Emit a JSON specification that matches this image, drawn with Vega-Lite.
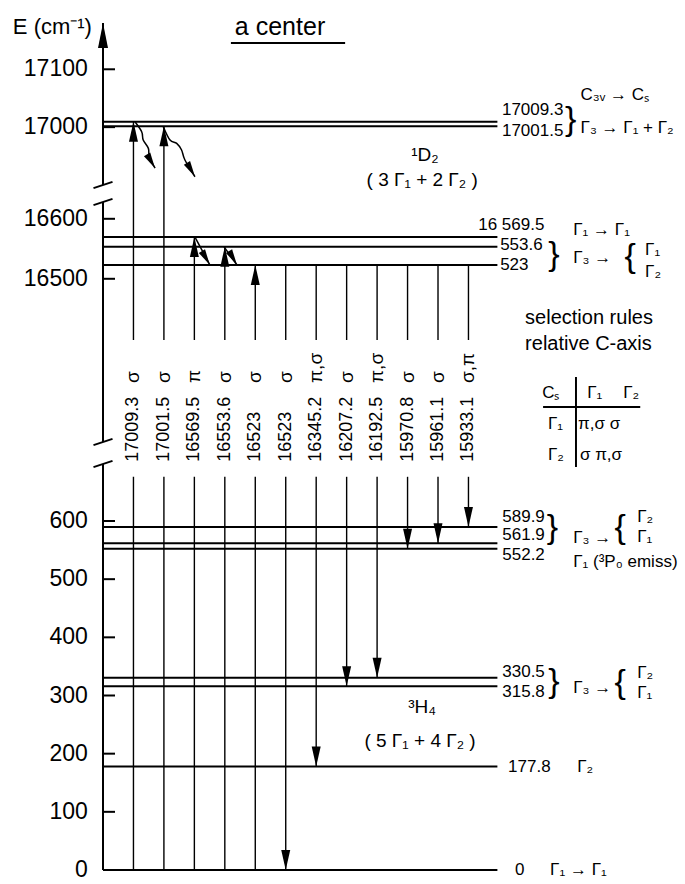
{
  "$schema": "https://vega.github.io/schema/vega-lite/v6.json",
  "width": 582,
  "height": 884,
  "autosize": {"type": "none"},
  "padding": {"left": 103, "top": 0, "right": 0, "bottom": 0},
  "background": "white",
  "config": {
    "view": {"stroke": null},
    "font": "Liberation Sans, Arial, sans-serif",
    "text": {"color": "black", "font": "Liberation Sans, Arial, sans-serif"}
  },
  "datasets": {
    "levels": [
      {"E": 17009.3}, {"E": 17001.5}, {"E": 16569.5}, {"E": 16553.6}, {"E": 16523},
      {"E": 589.9}, {"E": 561.9}, {"E": 552.2}, {"E": 330.5}, {"E": 315.8}, {"E": 177.8}, {"E": 0}
    ],
    "yticks": [
      {"E": 0}, {"E": 100}, {"E": 200}, {"E": 300}, {"E": 400}, {"E": 500}, {"E": 600},
      {"E": 16500}, {"E": 16600}, {"E": 17000}, {"E": 17100}
    ],
    "axisSeg": [
      {"lo": 0, "hi": 698}, {"lo": 16228, "hi": 16628}, {"lo": 16900, "hi": 17180}
    ],
    "axisTop": [{"E": 17180}],
    "breaks": [{"E": 16900}, {"E": 16628}, {"E": 16228}, {"E": 698}],
    "trans": [
      {"col": 1, "up": 17009.3, "low": 0, "kind": "abs", "num": "17009.3", "pol": "σ"},
      {"col": 2, "up": 17001.5, "low": 0, "kind": "abs", "num": "17001.5", "pol": "σ"},
      {"col": 3, "up": 16569.5, "low": 0, "kind": "abs", "num": "16569.5", "pol": "π"},
      {"col": 4, "up": 16553.6, "low": 0, "kind": "abs", "num": "16553.6", "pol": "σ"},
      {"col": 5, "up": 16523, "low": 0, "kind": "abs", "num": "16523", "pol": "σ"},
      {"col": 6, "up": 16523, "low": 0, "kind": "em", "num": "16523", "pol": "σ"},
      {"col": 7, "up": 16523, "low": 177.8, "kind": "em", "num": "16345.2", "pol": "π,σ"},
      {"col": 8, "up": 16523, "low": 315.8, "kind": "em", "num": "16207.2", "pol": "σ"},
      {"col": 9, "up": 16523, "low": 330.5, "kind": "em", "num": "16192.5", "pol": "π,σ"},
      {"col": 10, "up": 16523, "low": 552.2, "kind": "em", "num": "15970.8", "pol": "σ"},
      {"col": 11, "up": 16523, "low": 561.9, "kind": "em", "num": "15961.1", "pol": "σ"},
      {"col": 12, "up": 16523, "low": 589.9, "kind": "em", "num": "15933.1", "pol": "σ,π"}
    ],
    "waves": [
      {"id": "w1", "o": 1, "col": 1.05, "E": 17009.3},
      {"id": "w1", "o": 2, "col": 1.27, "E": 16992},
      {"id": "w1", "o": 3, "col": 1.32, "E": 16977.8},
      {"id": "w1", "o": 4, "col": 1.49, "E": 16963.3},
      {"id": "w1", "o": 5, "col": 1.52, "E": 16949},
      {"id": "w1", "o": 6, "col": 1.71, "E": 16929},
      {"id": "w2", "o": 1, "col": 1.98, "E": 17000.8},
      {"id": "w2", "o": 2, "col": 2.2, "E": 16977.8},
      {"id": "w2", "o": 3, "col": 2.42, "E": 16972},
      {"id": "w2", "o": 4, "col": 2.58, "E": 16960.5},
      {"id": "w2", "o": 5, "col": 2.69, "E": 16943.2},
      {"id": "w2", "o": 6, "col": 3.02, "E": 16914.3},
      {"id": "w3", "o": 1, "col": 3.02, "E": 16569.5},
      {"id": "w3", "o": 2, "col": 3.51, "E": 16523},
      {"id": "w4", "o": 1, "col": 3.97, "E": 16553.6},
      {"id": "w4", "o": 2, "col": 4.4, "E": 16523}
    ],
    "notes": [
      {"kind": "lab", "t": "17009.3", "c": 13.1, "E": 17029.6},
      {"kind": "lab", "t": "17001.5", "c": 13.1, "E": 16993.3},
      {"kind": "lab", "t": "Γ₃ → Γ₁ + Γ₂", "c": 15.68, "E": 16998.5},
      {"kind": "lab", "t": "C₃ᵥ → Cₛ", "c": 15.68, "E": 17055.5},
      {"kind": "lab", "t": "16 569.5", "c": 12.32, "E": 16589.7},
      {"kind": "lab", "t": "553.6", "c": 13.04, "E": 16556.3},
      {"kind": "lab", "t": "523", "c": 13.04, "E": 16523},
      {"kind": "lab", "t": "Γ₁ → Γ₁", "c": 15.44, "E": 16581.3},
      {"kind": "lab", "t": "Γ₃ →", "c": 15.44, "E": 16534.7},
      {"kind": "lab", "t": "Γ₁", "c": 17.8, "E": 16548},
      {"kind": "lab", "t": "Γ₂", "c": 17.8, "E": 16511.3},
      {"kind": "sel", "t": "selection rules", "c": 13.86, "E": 16434.7},
      {"kind": "sel", "t": "relative C-axis", "c": 13.86, "E": 16391.3},
      {"kind": "lab", "t": "Cₛ", "c": 14.42, "E": 16309.7},
      {"kind": "lab", "t": "Γ₁", "c": 15.9, "E": 16309.7},
      {"kind": "lab", "t": "Γ₂", "c": 17.08, "E": 16309.7},
      {"kind": "lab", "t": "Γ₁", "c": 14.61, "E": 16258},
      {"kind": "lab", "t": "π,σ  σ", "c": 15.6, "E": 16258},
      {"kind": "lab", "t": "Γ₂", "c": 14.61, "E": 16206.3},
      {"kind": "lab", "t": "σ  π,σ", "c": 15.66, "E": 16206.3},
      {"kind": "lab", "t": "589.9", "c": 13.11, "E": 606.8},
      {"kind": "lab", "t": "561.9", "c": 13.11, "E": 575.9},
      {"kind": "lab", "t": "552.2", "c": 13.11, "E": 541.5},
      {"kind": "lab", "t": "Γ₃ →", "c": 15.44, "E": 570.7},
      {"kind": "lab", "t": "Γ₂", "c": 17.54, "E": 606.8},
      {"kind": "lab", "t": "Γ₁", "c": 17.54, "E": 572.5},
      {"kind": "lab", "t": "Γ₁ (³P₀ emiss)", "c": 15.44, "E": 529.5},
      {"kind": "lab", "t": "330.5", "c": 13.11, "E": 340.4},
      {"kind": "lab", "t": "315.8", "c": 13.11, "E": 306},
      {"kind": "lab", "t": "Γ₃ →", "c": 15.44, "E": 312.9},
      {"kind": "lab", "t": "Γ₂", "c": 17.54, "E": 338.7},
      {"kind": "lab", "t": "Γ₁", "c": 17.54, "E": 304.3},
      {"kind": "lab", "t": "177.8", "c": 13.3, "E": 177.8},
      {"kind": "lab", "t": "Γ₂", "c": 15.57, "E": 177.8},
      {"kind": "lab", "t": "0", "c": 13.53, "E": 0},
      {"kind": "lab", "t": "Γ₁ → Γ₁", "c": 14.68, "E": 0},
      {"kind": "mid", "t": "¹D₂", "c": 10.57, "E": 16951.8},
      {"kind": "mid", "t": "( 3 Γ₁ + 2 Γ₂ )", "c": 10.48, "E": 16908.6},
      {"kind": "mid", "t": "³H₄", "c": 10.48, "E": 280.2},
      {"kind": "mid", "t": "( 5 Γ₁ + 4 Γ₂ )", "c": 10.41, "E": 221.8},
      {"kind": "title", "t": "a   center", "c": 4.33, "E": 17173},
      {"kind": "ytitle", "t": "E (cm⁻¹)", "c": -2.96, "E": 17173},
      {"kind": "brace", "t": "}", "c": 15.36, "E": 17011.5},
      {"kind": "brace", "t": "}", "c": 14.81, "E": 16539.7},
      {"kind": "brace", "t": "{", "c": 17.31, "E": 16536.3},
      {"kind": "brace", "t": "}", "c": 14.76, "E": 588},
      {"kind": "brace", "t": "{", "c": 16.98, "E": 588},
      {"kind": "brace", "t": "}", "c": 14.81, "E": 323.2},
      {"kind": "brace", "t": "{", "c": 16.98, "E": 321.5}
    ],
    "lines": [
      {"c1": 4.2, "c2": 7.95, "e1": 17145.4, "e2": 17145.4},
      {"c1": 15.53, "c2": 15.53, "e1": 16336.3, "e2": 692.8},
      {"c1": 14.45, "c2": 17.64, "e1": 16286.3, "e2": 16286.3}
    ]
  },
  "layer": [
    {
      "data": {"name": "levels"},
      "mark": {"type": "rule", "strokeWidth": 2, "color": "black"},
      "encoding": {
        "y": {
          "field": "E", "type": "quantitative",
          "scale": {"domain": [0, 698, 16191.3, 16628, 16900, 17180], "range": [870, 464, 464, 202, 185, 23], "nice": false, "zero": false},
          "axis": null
        },
        "x": {"datum": 0, "type": "quantitative", "scale": {"domain": [0, 19.11], "range": [0, 582], "nice": false, "zero": false}, "axis": null},
        "x2": {"datum": 12.95}
      }
    },
    {
      "data": {"name": "yticks"},
      "mark": {"type": "rule", "strokeWidth": 2, "color": "black"},
      "encoding": {
        "y": {"field": "E", "type": "quantitative", "axis": null},
        "x": {"datum": 0, "type": "quantitative", "axis": null},
        "x2": {"datum": 0.394}
      }
    },
    {
      "data": {"name": "yticks"},
      "mark": {"type": "text", "align": "right", "baseline": "middle", "fontSize": 23, "color": "black"},
      "encoding": {
        "y": {"field": "E", "type": "quantitative", "axis": null},
        "x": {"datum": -0.5, "type": "quantitative", "axis": null},
        "text": {"field": "E", "type": "quantitative", "format": "d"}
      }
    },
    {
      "data": {"name": "axisSeg"},
      "mark": {"type": "rule", "strokeWidth": 2, "color": "black"},
      "encoding": {
        "y": {"field": "lo", "type": "quantitative", "axis": null},
        "y2": {"field": "hi"},
        "x": {"datum": 0, "type": "quantitative", "axis": null}
      }
    },
    {
      "data": {"name": "axisTop"},
      "mark": {"type": "point", "shape": "M0,0L-0.5,2.5L0.5,2.5Z", "size": 400, "filled": true, "color": "black", "opacity": 1, "strokeWidth": 0},
      "encoding": {
        "y": {"field": "E", "type": "quantitative", "axis": null},
        "x": {"datum": 0, "type": "quantitative", "axis": null}
      }
    },
    {
      "data": {"name": "breaks"},
      "mark": {"type": "point", "shape": "M-1,0.33L1,-0.33", "size": 361, "filled": false, "color": "black", "opacity": 1, "strokeWidth": 2},
      "encoding": {
        "y": {"field": "E", "type": "quantitative", "axis": null},
        "x": {"datum": 0, "type": "quantitative", "axis": null}
      }
    },
    {
      "data": {"name": "trans"},
      "mark": {"type": "rule", "strokeWidth": 1.4, "color": "black"},
      "encoding": {
        "x": {"field": "col", "type": "quantitative", "axis": null},
        "y": {"field": "up", "type": "quantitative", "axis": null},
        "y2": {"datum": 16398}
      }
    },
    {
      "data": {"name": "trans"},
      "mark": {"type": "rule", "strokeWidth": 1.4, "color": "black"},
      "encoding": {
        "x": {"field": "col", "type": "quantitative", "axis": null},
        "y": {"field": "low", "type": "quantitative", "axis": null},
        "y2": {"datum": 676}
      }
    },
    {
      "data": {"name": "trans"},
      "transform": [{"filter": "datum.kind === 'abs'"}],
      "mark": {"type": "point", "shape": "M0,0L-0.45,2L0.45,2Z", "size": 400, "filled": true, "color": "black", "opacity": 1, "strokeWidth": 0},
      "encoding": {
        "x": {"field": "col", "type": "quantitative", "axis": null},
        "y": {"field": "up", "type": "quantitative", "axis": null}
      }
    },
    {
      "data": {"name": "trans"},
      "transform": [{"filter": "datum.kind === 'em'"}],
      "mark": {"type": "point", "shape": "M0,0L-0.45,-2L0.45,-2Z", "size": 400, "filled": true, "color": "black", "opacity": 1, "strokeWidth": 0},
      "encoding": {
        "x": {"field": "col", "type": "quantitative", "axis": null},
        "y": {"field": "low", "type": "quantitative", "axis": null}
      }
    },
    {
      "data": {"name": "trans"},
      "mark": {"type": "text", "angle": 270, "align": "left", "baseline": "middle", "fontSize": 18, "color": "black"},
      "encoding": {
        "x": {"field": "col", "type": "quantitative", "axis": null},
        "y": {"datum": 16195, "type": "quantitative", "axis": null},
        "text": {"field": "num"}
      }
    },
    {
      "data": {"name": "trans"},
      "mark": {"type": "text", "angle": 270, "align": "left", "baseline": "middle", "fontSize": 19, "color": "black"},
      "encoding": {
        "x": {"field": "col", "type": "quantitative", "axis": null},
        "y": {"datum": 16326.3, "type": "quantitative", "axis": null},
        "text": {"field": "pol"}
      }
    },
    {
      "data": {"name": "waves"},
      "mark": {"type": "line", "strokeWidth": 1.5, "color": "black", "interpolate": "cardinal"},
      "encoding": {
        "x": {"field": "col", "type": "quantitative", "axis": null},
        "y": {"field": "E", "type": "quantitative", "axis": null},
        "detail": {"field": "id"},
        "order": {"field": "o"}
      }
    },
    {
      "data": {"name": "waves"},
      "transform": [
        {"joinaggregate": [{"op": "max", "field": "o", "as": "mo"}], "groupby": ["id"]},
        {"filter": "datum.o === datum.mo"}
      ],
      "mark": {"type": "point", "shape": "M0,0L-0.45,-2L0.45,-2Z", "size": 256, "angle": -30, "filled": true, "color": "black", "opacity": 1, "strokeWidth": 0},
      "encoding": {
        "x": {"field": "col", "type": "quantitative", "axis": null},
        "y": {"field": "E", "type": "quantitative", "axis": null}
      }
    },
    {
      "data": {"name": "notes"},
      "transform": [{"filter": "datum.kind === 'lab'"}],
      "mark": {"type": "text", "align": "left", "baseline": "middle", "fontSize": 17, "color": "black"},
      "encoding": {
        "x": {"field": "c", "type": "quantitative", "axis": null},
        "y": {"field": "E", "type": "quantitative", "axis": null},
        "text": {"field": "t"}
      }
    },
    {
      "data": {"name": "notes"},
      "transform": [{"filter": "datum.kind === 'sel'"}],
      "mark": {"type": "text", "align": "left", "baseline": "middle", "fontSize": 20, "color": "black"},
      "encoding": {
        "x": {"field": "c", "type": "quantitative", "axis": null},
        "y": {"field": "E", "type": "quantitative", "axis": null},
        "text": {"field": "t"}
      }
    },
    {
      "data": {"name": "notes"},
      "transform": [{"filter": "datum.kind === 'mid'"}],
      "mark": {"type": "text", "align": "center", "baseline": "middle", "fontSize": 19, "color": "black"},
      "encoding": {
        "x": {"field": "c", "type": "quantitative", "axis": null},
        "y": {"field": "E", "type": "quantitative", "axis": null},
        "text": {"field": "t"}
      }
    },
    {
      "data": {"name": "notes"},
      "transform": [{"filter": "datum.kind === 'title'"}],
      "mark": {"type": "text", "align": "left", "baseline": "middle", "fontSize": 25, "color": "black"},
      "encoding": {
        "x": {"field": "c", "type": "quantitative", "axis": null},
        "y": {"field": "E", "type": "quantitative", "axis": null},
        "text": {"field": "t"}
      }
    },
    {
      "data": {"name": "notes"},
      "transform": [{"filter": "datum.kind === 'ytitle'"}],
      "mark": {"type": "text", "align": "left", "baseline": "middle", "fontSize": 22, "color": "black"},
      "encoding": {
        "x": {"field": "c", "type": "quantitative", "axis": null},
        "y": {"field": "E", "type": "quantitative", "axis": null},
        "text": {"field": "t"}
      }
    },
    {
      "data": {"name": "notes"},
      "transform": [{"filter": "datum.kind === 'brace'"}],
      "mark": {"type": "text", "align": "center", "baseline": "middle", "fontSize": 34, "color": "black"},
      "encoding": {
        "x": {"field": "c", "type": "quantitative", "axis": null},
        "y": {"field": "E", "type": "quantitative", "axis": null},
        "text": {"field": "t"}
      }
    },
    {
      "data": {"name": "lines"},
      "mark": {"type": "rule", "strokeWidth": 2, "color": "black"},
      "encoding": {
        "x": {"field": "c1", "type": "quantitative", "axis": null},
        "x2": {"field": "c2"},
        "y": {"field": "e1", "type": "quantitative", "axis": null},
        "y2": {"field": "e2"}
      }
    }
  ]
}
